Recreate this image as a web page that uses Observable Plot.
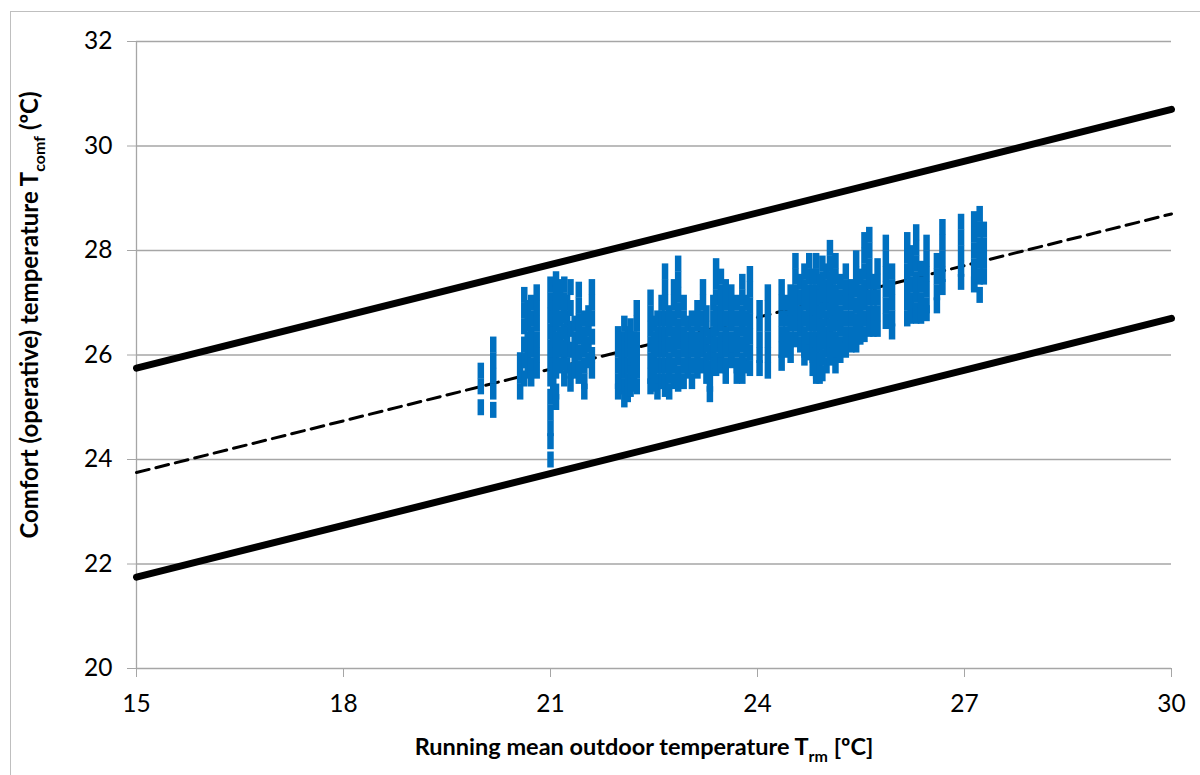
<!DOCTYPE html>
<html>
<head>
<meta charset="utf-8">
<script src="https://cdn.jsdelivr.net/npm/d3@7"></script>
<script src="https://cdn.jsdelivr.net/npm/@observablehq/plot@0.6"></script>
<style>
  html, body { margin: 0; padding: 0; background: #fff; }
  #chart { width: 1200px; height: 775px; overflow: hidden; }
</style>
</head>
<body>
<div id="chart"></div>
<script>
// ---- Data ----
const xTicks = [15, 18, 21, 24, 27, 30];
const yTicks = [20, 22, 24, 26, 28, 30, 32];

// Comfort band lines (Trm endpoints and Tcomf values)
const bandTrm = [15, 30];
const upperTcomf = [25.75, 30.7];
const neutralTcomf = [23.75, 28.7];
const lowerTcomf = [21.75, 26.7];

// Observed points: running-mean outdoor temperature (one per day) and
// the comfort temperatures observed on that day
const obsTrm = [
  19.99, 20.17, 20.56, 20.62, 20.67, 20.72, 20.80, 21.00, 21.04, 21.08,
  21.14, 21.20, 21.24, 21.29, 21.35, 21.41, 21.49, 21.55, 21.60, 21.98,
  22.03, 22.07, 22.12, 22.16, 22.21, 22.25, 22.45, 22.50, 22.55, 22.61,
  22.66, 22.72, 22.79, 22.85, 22.93, 22.99, 23.05, 23.13, 23.21, 23.26,
  23.31, 23.36, 23.40, 23.47, 23.54, 23.62, 23.70, 23.78, 23.84, 23.89,
  24.03, 24.15, 24.35, 24.42, 24.48, 24.55, 24.62, 24.68, 24.75, 24.80,
  24.85, 24.90, 24.94, 25.00, 25.05, 25.09, 25.13, 25.20, 25.28, 25.36,
  25.43, 25.49, 25.55, 25.62, 25.68, 25.74, 25.86, 25.95, 26.17, 26.22,
  26.30, 26.37, 26.45, 26.60, 26.68, 26.95, 27.14, 27.22, 27.28
];
const obsTcomf = [
  [25.7, 25.4, 25.0],
  [26.2, 25.9, 25.6, 25.3, 24.95],
  [25.9, 25.6, 25.3],
  [27.15, 26.85, 26.55, 26.2, 25.9, 25.55],
  [26.9, 26.6, 26.3, 26.0, 25.7],
  [27.0, 26.7, 26.4, 26.1, 25.8, 25.55],
  [27.2, 26.9, 26.6, 26.3, 26.0, 25.7],
  [27.35, 27.05, 26.75, 26.45, 26.15, 25.85, 25.55, 25.2, 24.9, 24.6, 24.35, 24.0],
  [27.0, 26.7, 26.4, 26.1, 25.8, 25.5],
  [27.45, 27.2, 26.9, 26.6, 26.3, 26.0, 25.7, 25.3, 25.1],
  [27.3, 27.0, 26.7, 26.4, 26.1, 25.8],
  [27.35, 27.05, 26.75, 26.45, 26.15, 25.85, 25.55],
  [27.0, 26.7, 26.4, 26.1, 25.8],
  [27.3, 26.9, 26.5, 26.1, 25.7, 25.45],
  [26.6, 26.3, 26.0, 25.7],
  [27.25, 26.95, 26.65, 26.35, 26.05, 25.75, 25.6],
  [26.7, 26.4, 26.1, 25.8, 25.5, 25.3],
  [26.8, 26.5, 26.2, 25.9],
  [27.3, 27.0, 26.7, 26.35, 26.0, 25.7],
  [26.4, 26.1, 25.8, 25.5, 25.3],
  [26.3, 26.0, 25.7, 25.4],
  [26.6, 26.3, 26.0, 25.7, 25.4, 25.15],
  [26.4, 26.1, 25.8, 25.5, 25.25],
  [26.55, 26.25, 25.95, 25.65, 25.35],
  [26.3, 26.0, 25.7, 25.45],
  [26.9, 26.6, 26.3, 26.0, 25.7, 25.4],
  [27.1, 26.8, 26.5, 26.2, 25.9, 25.6, 25.4],
  [26.6, 26.3, 26.0, 25.7, 25.45],
  [26.7, 26.4, 26.1, 25.8, 25.5, 25.3],
  [27.0, 26.7, 26.4, 26.1, 25.8, 25.5],
  [27.6, 27.3, 27.0, 26.7, 26.4, 26.1, 25.8, 25.5, 25.35],
  [26.8, 26.5, 26.2, 25.9, 25.6, 25.3],
  [27.3, 27.0, 26.7, 26.4, 26.1, 25.8, 25.5],
  [27.75, 27.45, 27.15, 26.85, 26.55, 26.25, 25.95, 25.65, 25.45],
  [27.0, 26.7, 26.4, 26.1, 25.8, 25.5],
  [26.6, 26.3, 26.0, 25.7],
  [26.7, 26.4, 26.1, 25.8, 25.5],
  [26.9, 26.6, 26.3, 26.0, 25.7],
  [27.3, 27.0, 26.7, 26.4, 26.1, 25.8],
  [26.8, 26.5, 26.2, 25.9, 25.6],
  [26.35, 26.05, 25.75, 25.45, 25.25],
  [27.0, 26.7, 26.4, 26.1, 25.8],
  [27.7, 27.4, 27.1, 26.8, 26.5, 26.2, 25.9, 25.75],
  [27.5, 27.2, 26.9, 26.6, 26.3, 26.0, 25.8],
  [27.3, 27.0, 26.7, 26.4, 26.1, 25.8, 25.6],
  [27.2, 26.9, 26.6, 26.3, 26.0, 25.9],
  [27.0, 26.7, 26.4, 26.1, 25.8, 25.6],
  [27.4, 27.1, 26.8, 26.5, 26.2, 25.9, 25.6],
  [27.0, 26.7, 26.4, 26.1, 25.8],
  [27.55, 27.25, 26.95, 26.65, 26.35, 26.05, 25.75],
  [26.9, 26.6, 26.3, 26.0, 25.75],
  [27.2, 26.9, 26.6, 26.3, 26.0, 25.7],
  [27.3, 27.0, 26.7, 26.4, 26.1, 25.85],
  [27.0, 26.7, 26.4, 26.1],
  [27.2, 26.9, 26.6, 26.3, 26.0],
  [27.8, 27.5, 27.2, 26.9, 26.6, 26.3],
  [27.4, 27.1, 26.8, 26.5, 26.2],
  [27.6, 27.3, 27.0, 26.7, 26.4, 26.1, 25.95],
  [27.8, 27.5, 27.2, 26.9, 26.6, 26.3, 26.05],
  [27.5, 27.2, 26.9, 26.6, 26.3, 26.0, 25.75],
  [27.8, 27.5, 27.2, 26.9, 26.6, 26.3, 26.0, 25.7, 25.6],
  [27.4, 27.1, 26.8, 26.5, 26.2, 25.9, 25.6],
  [27.75, 27.45, 27.15, 26.85, 26.55, 26.25, 25.95, 25.65],
  [27.6, 27.3, 27.0, 26.7, 26.4, 26.1, 25.8],
  [28.05, 27.75, 27.45, 27.15, 26.85, 26.55, 26.25, 25.95],
  [27.5, 27.2, 26.9, 26.6, 26.3, 26.0],
  [27.8, 27.5, 27.2, 26.9, 26.6, 26.3, 26.0, 25.8],
  [27.4, 27.1, 26.8, 26.5, 26.2, 26.0],
  [27.6, 27.3, 27.0, 26.7, 26.4, 26.1],
  [27.3, 27.0, 26.7, 26.4, 26.2],
  [27.85, 27.55, 27.25, 26.95, 26.65, 26.35, 26.2],
  [27.5, 27.2, 26.9, 26.6, 26.35],
  [28.2, 27.9, 27.6, 27.3, 27.0, 26.7, 26.4],
  [28.3, 28.0, 27.7, 27.4, 27.1, 26.8, 26.5],
  [27.4, 27.1, 26.8, 26.5],
  [27.7, 27.4, 27.1, 26.8, 26.5],
  [28.15, 27.85, 27.55, 27.25, 26.95, 26.65],
  [27.6, 27.3, 27.0, 26.7, 26.45],
  [28.2, 27.9, 27.6, 27.3, 27.0, 26.7],
  [27.95, 27.65, 27.35, 27.05, 26.75],
  [28.35, 28.05, 27.75, 27.45, 27.15, 26.85, 26.75],
  [27.65, 27.35, 27.05, 26.75],
  [28.15, 27.85, 27.55, 27.25, 26.95, 26.8],
  [27.8, 27.5, 27.2, 26.95],
  [28.45, 28.15, 27.85, 27.55, 27.3],
  [28.55, 28.25, 27.95, 27.65, 27.4],
  [28.6, 28.3, 28.0, 27.7, 27.4, 27.35],
  [28.7, 28.4, 28.1, 27.8, 27.5, 27.15],
  [28.4, 28.1, 27.8, 27.5]
];

// ---- Build tables ----
const points = obsTrm.flatMap((x, i) => obsTcomf[i].map(y => ({x, y})));
const band = (ys) => bandTrm.map((x, i) => ({x, y: ys[i]}));

// Excel-like vertical dash marker
const dashSymbol = {
  draw(ctx) { ctx.rect(-3.25, -8, 6.5, 16); }
};

const FONT = "Lato, 'Open Sans', sans-serif";
const GRID = "#a6a6a6";

const chart = Plot.plot({
  width: 1200,
  height: 775,
  marginLeft: 136,
  marginRight: 29,
  marginTop: 41,
  marginBottom: 107,
  style: { fontFamily: FONT, background: "#fff", overflow: "visible" },
  x: { domain: [15, 30], ticks: xTicks },
  y: { domain: [20, 32], ticks: yTicks },
  marks: [
    Plot.gridY(yTicks, { stroke: GRID, strokeOpacity: 1, strokeWidth: 1.3 }),
    Plot.ruleX([15], { stroke: GRID, strokeWidth: 1.3 }),
    Plot.axisY(yTicks, {
      tickSize: 9, tickPadding: 15, stroke: GRID, strokeOpacity: 1,
      fontSize: 24.5, fill: "#000", label: null, tickFormat: d => String(d)
    }),
    Plot.axisX(xTicks, {
      tickSize: 9, tickPadding: 17, stroke: GRID, strokeOpacity: 1,
      fontSize: 24.5, fill: "#000", label: null, tickFormat: d => String(d)
    }),
    Plot.line(band(upperTcomf), { x: "x", y: "y", stroke: "#000", strokeWidth: 7 }),
    Plot.line(band(lowerTcomf), { x: "x", y: "y", stroke: "#000", strokeWidth: 7 }),
    Plot.line(band(neutralTcomf), { x: "x", y: "y", stroke: "#000", strokeWidth: 3, strokeDasharray: "13,7" }),
    Plot.dot(points, { x: "x", y: "y", symbol: dashSymbol, fill: "#0070C0", stroke: "none", r: 3 })
  ]
});

document.getElementById("chart").appendChild(chart);

// Outer chart-area border and axis titles with sub/superscripts
const svg = d3.select(chart);
svg.insert("rect", ":first-child")
  .attr("x", 10.5).attr("y", 11.5).attr("width", 1220).attr("height", 800)
  .attr("fill", "#fff").attr("stroke", "#bfbfbf").attr("stroke-width", 1);

const xt = svg.append("text")
  .attr("x", 644).attr("y", 755)
  .attr("text-anchor", "middle")
  .attr("font-family", FONT).attr("font-weight", "bold").attr("font-size", 23.5)
  .attr("fill", "#000");
xt.append("tspan").text("Running mean outdoor temperature T");
xt.append("tspan").attr("font-size", 16).attr("dy", 7).text("rm");
xt.append("tspan").attr("dy", -7).text(" [ºC]");

const yt = svg.append("text")
  .attr("transform", "translate(38,315) rotate(-90)")
  .attr("text-anchor", "middle")
  .attr("font-family", FONT).attr("font-weight", "bold").attr("font-size", 24)
  .attr("fill", "#000");
yt.append("tspan").text("Comfort (operative) temperature T");
yt.append("tspan").attr("font-size", 16).attr("dy", 7).text("comf");
yt.append("tspan").attr("dy", -7).text(" (ºC)");
</script>
</body>
</html>
